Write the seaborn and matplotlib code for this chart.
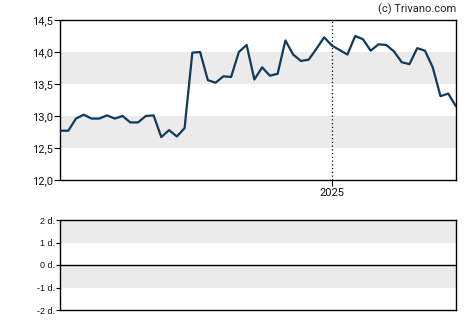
import numpy as np
import pandas as pd
import matplotlib
matplotlib.use("Agg")
import matplotlib.pyplot as plt
import seaborn as sns

prices = [12.77, 12.77, 12.96, 13.02, 12.96, 12.96, 13.01, 12.96, 13.00, 12.90,
          12.90, 13.00, 13.01, 12.67, 12.78, 12.68, 12.81, 13.99, 14.00, 13.56,
          13.52, 13.62, 13.61, 14.00, 14.11, 13.57, 13.76, 13.63, 13.66, 14.18,
          13.96, 13.86, 13.88, 14.05, 14.23, 14.10, 14.03, 13.96, 14.25, 14.20,
          14.02, 14.12, 14.11, 14.01, 13.84, 13.81, 14.06, 14.02, 13.76, 13.31,
          13.35, 13.15]
dates = pd.date_range("2024-05-01", periods=len(prices), freq="7D")
year_mark = pd.Timestamp("2025-01-01")
year_label = "2025"
top_ticks = [12.0, 12.5, 13.0, 13.5, 14.0, 14.5]
top_labels = ["12,0", "12,5", "13,0", "13,5", "14,0", "14,5"]
bot_ticks = [-2, -1, 0, 1, 2]
bot_labels = ["-2 d.", "-1 d.", "0 d.", "1 d.", "2 d."]

df = pd.DataFrame({"date": dates, "price": prices})

sns.set_style("white")
plt.rcParams['font.family'] = ['Roboto', 'DejaVu Sans']

fig = plt.figure(figsize=(4.70, 3.25), dpi=100)
W, H = 470, 325
ax = fig.add_axes([60.5 / W, 1 - 180 / H, (456 - 60.5) / W, 160 / H])
ax2 = fig.add_axes([60.5 / W, 1 - 310 / H, (455.5 - 60.5) / W, 90 / H])

band = "#ebebeb"
for lo, hi in [(12.5, 13.0), (13.5, 14.0)]:
    ax.axhspan(lo, hi, color=band, lw=0, zorder=0)
ax.axvline(year_mark, color="black", lw=0.9, ls=(0, (1, 2)), zorder=1)
sns.lineplot(data=df, x="date", y="price", ax=ax, color="#0f3a5a", lw=1.6, zorder=3)
ax.set_xlim(dates[0], dates[-1])
ax.set_ylim(12.0, 14.5)
ax.set_yticks(top_ticks)
ax.set_yticklabels(top_labels)
ax.set_xticks([year_mark])
ax.set_xticklabels([year_label])
ax.set_xlabel("")
ax.set_ylabel("")
for s in ax.spines.values():
    s.set_visible(True)
    s.set_color("black")
    s.set_linewidth(1.0)
ax.tick_params(axis="both", which="both", length=4, width=0.8, color="black",
               labelsize=8, pad=1.5, labelcolor="#111111", left=True, bottom=True)
ax.text(1.0, 1.03, "(c) Trivano.com", transform=ax.transAxes, ha="right", va="bottom",
        fontsize=8, color="#222222")

for lo, hi in [(1, 2), (-1, 0)]:
    ax2.axhspan(lo, hi, color=band, lw=0, zorder=0)
ax2.axhline(0, color="black", lw=1.0)
ax2.set_xlim(dates[0], dates[-1])
ax2.set_ylim(-2, 2)
ax2.set_yticks(bot_ticks)
ax2.set_yticklabels(bot_labels, family=["Liberation Sans", "DejaVu Sans"])
ax2.set_xticks([])
for s in ax2.spines.values():
    s.set_visible(True)
    s.set_color("black")
    s.set_linewidth(1.0)
ax2.tick_params(axis="y", length=3, width=0.8, color="black", labelsize=6.5, pad=1,
                labelcolor="#111111", left=True)

fig.savefig("out.png", dpi=100)
